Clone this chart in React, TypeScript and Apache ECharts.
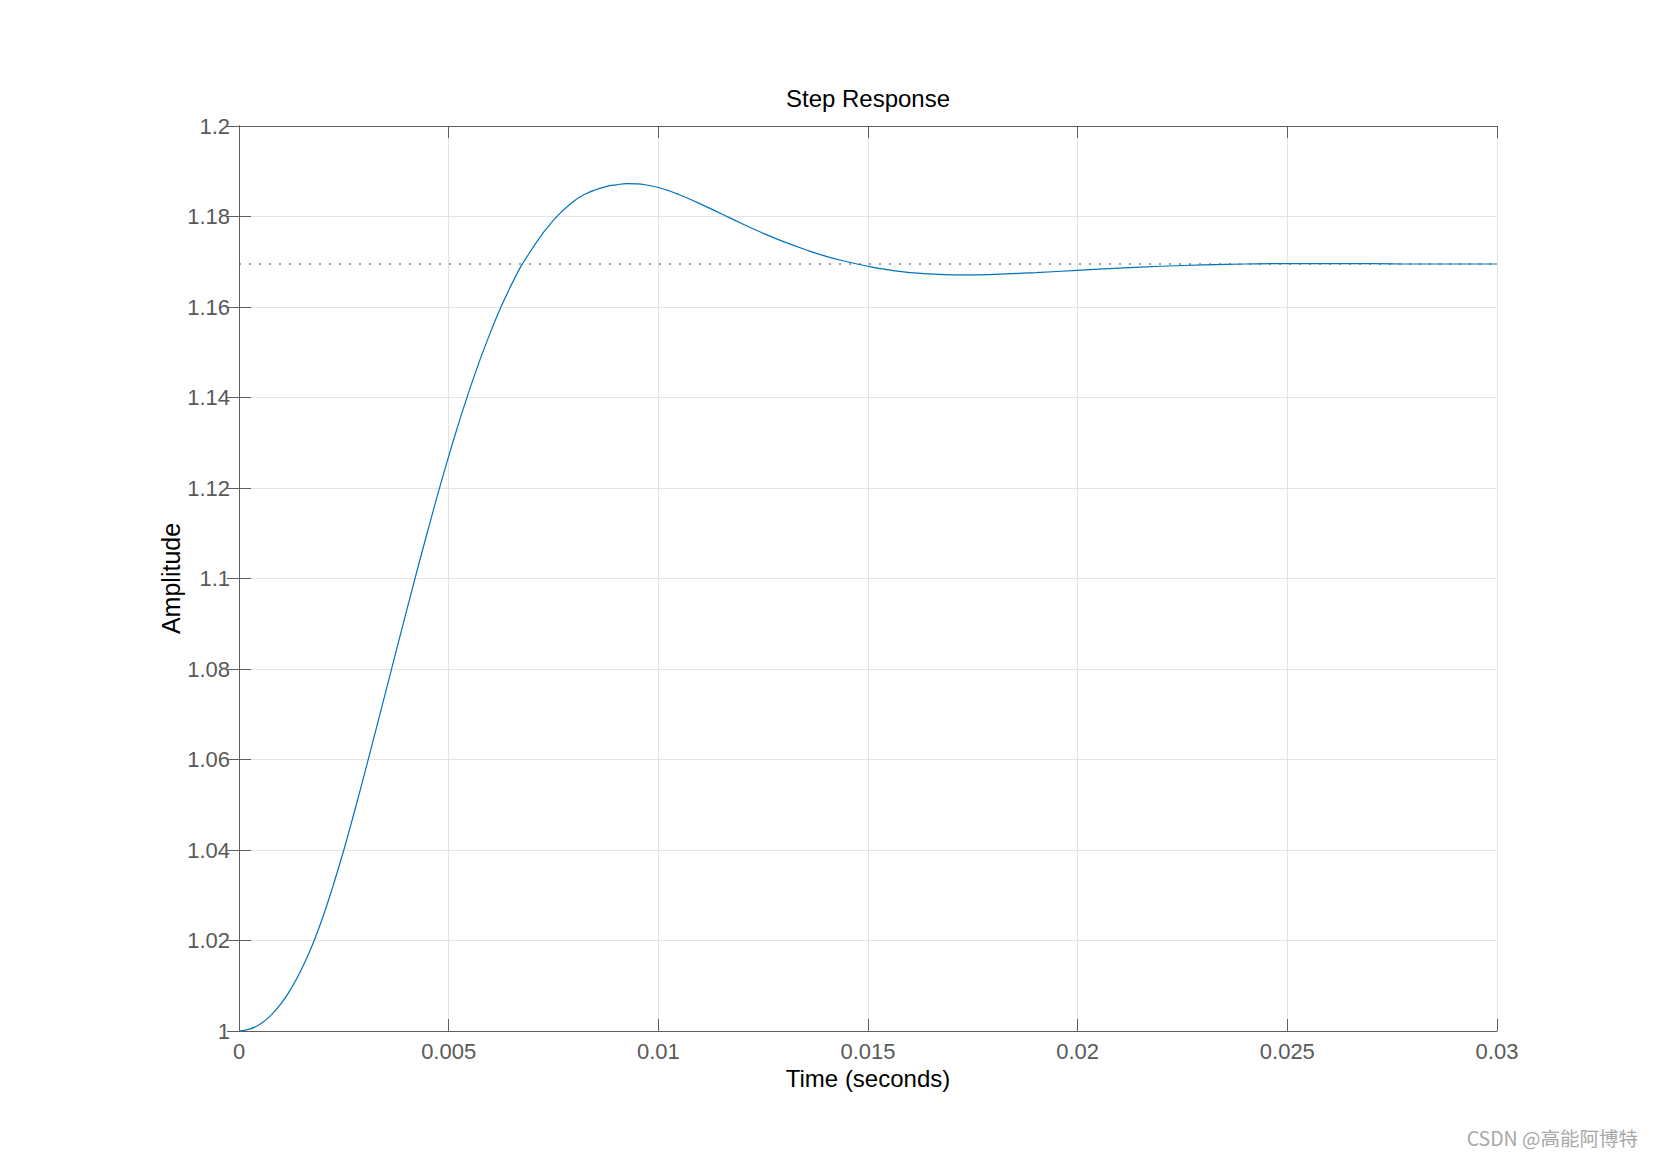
import React, { useEffect, useRef } from "react";
import * as echarts from "echarts";

const timeSeconds = [
  0, 0.00025, 0.0005, 0.00075, 0.001, 0.00125, 0.0015, 0.00175, 0.002, 0.00225,
  0.0025, 0.00275, 0.003, 0.0035, 0.004, 0.0045, 0.005, 0.0055, 0.006, 0.0065,
  0.007, 0.0075, 0.008, 0.00825, 0.0085, 0.00875, 0.009, 0.00925, 0.0095, 0.00975,
  0.01, 0.01025, 0.0105, 0.011, 0.0115, 0.012, 0.0125, 0.013, 0.0135, 0.014,
  0.0145, 0.015, 0.0155, 0.016, 0.0165, 0.017, 0.0175, 0.018, 0.019, 0.02,
  0.021, 0.022, 0.023, 0.024, 0.025, 0.026, 0.027, 0.028, 0.029, 0.03,
];
const amplitude = [
  1.0, 1.0004, 1.0015, 1.0034, 1.006, 1.0095, 1.0138, 1.019, 1.0252, 1.0323,
  1.04, 1.0484, 1.0571, 1.075, 1.093, 1.1105, 1.127, 1.1418, 1.1545, 1.165,
  1.173, 1.1792, 1.1835, 1.1849, 1.1859, 1.1866, 1.187, 1.18725, 1.1872, 1.1869,
  1.1864, 1.1857, 1.1848, 1.1828, 1.1806, 1.1784, 1.1763, 1.1744, 1.1727, 1.1712,
  1.17, 1.169, 1.1682, 1.1676, 1.1673, 1.1671, 1.1671, 1.1672, 1.1676, 1.1681,
  1.1686, 1.169, 1.1693, 1.1695, 1.1696, 1.1696, 1.1696, 1.1695, 1.1695, 1.1695,
];
const finalValue = 1.1695;
const xRange = [0, 0.03];
const yRange = [1, 1.2];
const xStep = 0.005;
const yStep = 0.02;
const titleText = "Step Response";
const xLabel = "Time (seconds)";
const yLabel = "Amplitude";
const watermark = "CSDN @高能阿博特";

const FONT = "'Liberation Sans', Arial, Helvetica, sans-serif";
const AXIS_COLOR = "#5f5f5f";
const GRID_COLOR = "#e3e3e3";

export default function App() {
  const ref = useRef<HTMLDivElement>(null);
  useEffect(() => {
    if (!ref.current) return;
    const chart = echarts.init(ref.current, null, { renderer: "svg" });
    const fmt = (v: number) => String(parseFloat(v.toFixed(4)));
    const baseAxisLine = { show: true, lineStyle: { color: AXIS_COLOR, width: 1 } };
    const tick = { show: true, inside: true, length: 12, lineStyle: { color: AXIS_COLOR, width: 1 } };
    chart.setOption({
      animation: false,
      backgroundColor: "#ffffff",
      grid: { left: 239, right: 157, top: 126, bottom: 127, containLabel: false },
      xAxis: [
        {
          type: "value",
          min: xRange[0],
          max: xRange[1],
          interval: xStep,
          position: "bottom",
          axisLine: baseAxisLine,
          axisTick: tick,
          axisLabel: { color: "#595959", fontFamily: FONT, fontSize: 22, margin: 9, formatter: fmt },
          splitLine: { show: true, lineStyle: { color: GRID_COLOR, width: 1 } },
          name: xLabel,
          nameLocation: "middle",
          nameGap: 35,
          nameMoveOverlap: false,
          nameTextStyle: { fontFamily: FONT, fontSize: 24, color: "#000", verticalAlign: "top" },
        },
        {
          type: "value",
          min: xRange[0],
          max: xRange[1],
          interval: xStep,
          position: "top",
          axisLine: baseAxisLine,
          axisTick: tick,
          axisLabel: { show: false },
          splitLine: { show: false },
        },
      ],
      yAxis: [
        {
          type: "value",
          min: yRange[0],
          max: yRange[1],
          interval: yStep,
          position: "left",
          axisLine: baseAxisLine,
          axisTick: tick,
          axisLabel: { color: "#595959", fontFamily: FONT, fontSize: 22, margin: 9, formatter: fmt },
          splitLine: { show: true, lineStyle: { color: GRID_COLOR, width: 1 } },
          name: yLabel,
          nameLocation: "middle",
          nameGap: 56,
          nameRotate: 90,
          nameMoveOverlap: false,
          nameTextStyle: { fontFamily: FONT, fontSize: 25, color: "#000" },
        },
        {
          type: "value",
          min: yRange[0],
          max: yRange[1],
          interval: yStep,
          position: "right",
          axisLine: baseAxisLine,
          axisTick: tick,
          axisLabel: { show: false },
          splitLine: { show: false },
        },
      ],
      series: [
        {
          type: "line",
          data: [
            [xRange[0], finalValue],
            [xRange[1], finalValue],
          ],
          showSymbol: false,
          silent: true,
          lineStyle: { color: "#444", width: 1, type: [2, 8] },
          z: 1,
        },
        {
          type: "line",
          data: timeSeconds.map((t, i) => [t, amplitude[i]]),
          showSymbol: false,
          smooth: 0.5,
          lineStyle: { color: "#0072BD", width: 1.2 },
          z: 2,
        },
      ],
      graphic: [
        {
          type: "text",
          x: 868,
          y: 98,
          style: {
            text: titleText,
            font: `24px ${FONT}`,
            fill: "#000",
            textAlign: "center",
            textVerticalAlign: "middle",
          },
        },
        {
          type: "text",
          right: 16,
          top: 1128,
          style: {
            text: watermark,
            font: "19.5px 'Noto Sans CJK SC', sans-serif",
            fill: "#a8a8a8",
          },
        },
      ],
    });
    return () => chart.dispose();
  }, []);
  return (
    <div
      ref={ref}
      style={{ position: "fixed", left: 0, top: 0, width: 1654, height: 1158, background: "#fff" }}
    />
  );
}
